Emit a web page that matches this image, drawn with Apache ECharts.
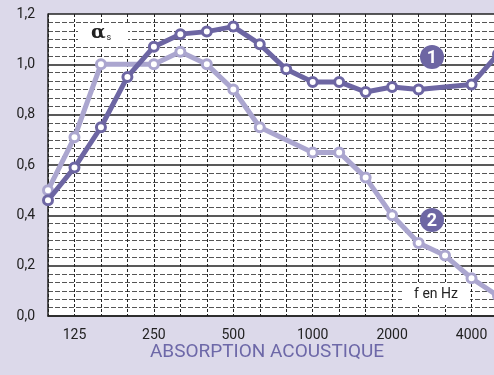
<!DOCTYPE html>
<html>
<head>
<meta charset="utf-8">
<script src="https://cdn.jsdelivr.net/npm/echarts@6/dist/echarts.min.js"></script>
<style>
  html, body { margin: 0; padding: 0; background: #dcd9ea; }
  #main { width: 494px; height: 375px; }
</style>
</head>
<body>
<div id="main"></div>
<script>
// bandes de tiers d'octave (Hz)
const freqs = ['100', '125', '160', '200', '250', '315', '400', '500', '630', '800',
  '1000', '1250', '1600', '2000', '2500', '3150', '4000', '5000'];
const shownLabels = ['125', '250', '500', '1000', '2000', '4000'];
// courbe 1 (foncée)
const curve1 = [0.46, 0.59, 0.75, 0.95, 1.07, 1.12, 1.13, 1.15, 1.08, 0.98,
  0.93, 0.93, 0.89, 0.91, 0.90, null, 0.92, 1.04];
// courbe 2 (claire)
const curve2 = [0.50, 0.71, 1.00, null, 1.00, 1.05, 1.00, 0.90, 0.75, null,
  0.65, 0.65, 0.55, 0.40, 0.29, 0.24, 0.15, 0.08];

const dark = '#6d66a3';
const light = '#aba6cf';

const chart = echarts.init(document.getElementById('main'));

const mkSeries = (data, color, z) => ({
  type: 'line',
  data: data,
  connectNulls: true,
  z: z,
  symbol: 'circle',
  symbolSize: 9,
  lineStyle: { color: color, width: 5 },
  itemStyle: { color: '#fff', borderColor: color, borderWidth: 3 },
  emphasis: { disabled: true },
});

const option = {
  backgroundColor: '#dcd9ea',
  animation: false,
  grid: { left: 48, width: 450, top: 14, height: 302, containLabel: false,
    outerBoundsMode: 'none',
    show: true, backgroundColor: '#fff', borderWidth: 0 },
  xAxis: {
    type: 'category',
    data: freqs,
    boundaryGap: false,
    axisLine: { show: true, lineStyle: { color: '#222', width: 1.5 } },
    axisTick: { show: false },
    axisLabel: {
      interval: 0,
      margin: 12,
      color: '#222',
      fontSize: 14,
      fontFamily: 'Roboto',
      formatter: (v) => shownLabels.includes(v) ? v : '',
    },
    splitLine: { show: true, interval: 0, lineStyle: { color: '#222', type: [3, 2], width: 1 } },
  },
  yAxis: {
    type: 'value',
    min: 0,
    max: 1.2,
    interval: 0.2,
    axisLine: { show: true, lineStyle: { color: '#222', width: 1.5 } },
    axisTick: { show: false },
    axisLabel: {
      color: '#222',
      fontSize: 14,
      fontFamily: 'Roboto',
      margin: 13,
      formatter: (v) => v.toFixed(1).replace('.', ','),
    },
    splitLine: { show: true, lineStyle: { color: '#222', width: 1.5 } },
    minorTick: { show: false, splitNumber: 6 },
    minorSplitLine: { show: true, lineStyle: { color: '#555', type: [5, 2], width: 1.2 } },
  },
  graphic: [
    // cache α s
    { type: 'rect', shape: { x: 78, y: 23, width: 50, height: 24 }, style: { fill: '#fff' }, z: 5 },
    { type: 'text', x: 91, y: 24, z: 6,
      style: { text: '{a|α}{s|s}', rich: {
        a: { fontFamily: 'DejaVu Serif', fontWeight: 'bold', fontSize: 19, fill: '#222' },
        s: { fontFamily: 'Roboto', fontSize: 9, fill: '#222', padding: [9, 0, 0, 1] } } } },
    // cache f en Hz
    { type: 'rect', shape: { x: 402, y: 284, width: 68, height: 21 }, style: { fill: '#fff' }, z: 5 },
    { type: 'text', x: 436, y: 294, z: 6,
      style: { text: 'f en Hz', font: '14px Roboto', fill: '#222', align: 'center', verticalAlign: 'middle' } },
    // pastilles 1 et 2
    { type: 'circle', shape: { cx: 432, cy: 57, r: 12 }, style: { fill: dark }, z: 20 },
    { type: 'text', x: 432, y: 58, z: 21,
      style: { text: '1', font: 'bold 18px Roboto', fill: '#fff', align: 'center', verticalAlign: 'middle' } },
    { type: 'circle', shape: { cx: 432, cy: 220, r: 12 }, style: { fill: dark }, z: 20 },
    { type: 'text', x: 432, y: 221, z: 21,
      style: { text: '2', font: 'bold 18px Roboto', fill: '#fff', align: 'center', verticalAlign: 'middle' } },
    // titre
    { type: 'text', x: 267, y: 352, z: 10,
      style: { text: 'ABSORPTION ACOUSTIQUE', font: '19px Roboto', fill: '#6d68a8', align: 'center', verticalAlign: 'middle' } },
  ],
  series: [mkSeries(curve2, light, 3), mkSeries(curve1, dark, 4)],
};

chart.setOption(option);
</script>
</body>
</html>
